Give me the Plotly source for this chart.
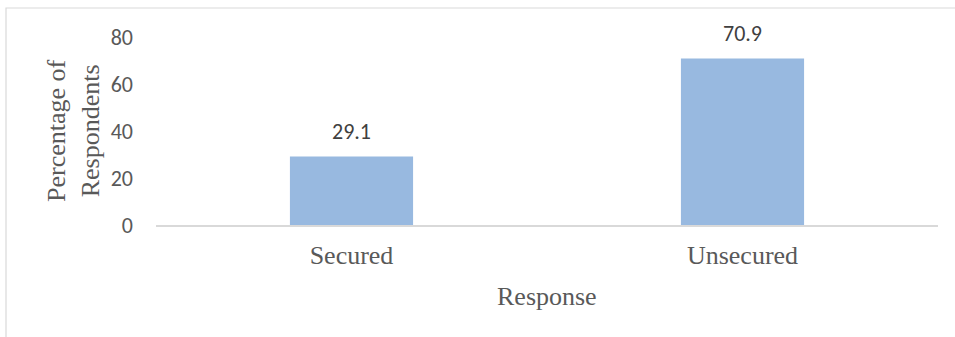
import plotly.graph_objects as go

categories = ["Secured", "Unsecured"]
values = [29.1, 70.9]
y_ticks = [0, 20, 40, 60, 80]

W, H = 955, 337
L, R, T, B = 156, 17, 37, 112

SERIF = "'Liberation Serif', 'Times New Roman', serif"
SANS = "Carlito, Calibri, 'Open Sans', sans-serif"

fig = go.Figure()
fig.add_trace(go.Bar(
    x=categories, y=values,
    marker=dict(color="#98b9e0", line=dict(width=0)),
    width=0.315,
    cliponaxis=False,
))

# data labels
for c, v in zip(categories, values):
    fig.add_annotation(x=c, y=v, text=f"{v:.1f}", showarrow=False,
                       yanchor="middle", yshift=25,
                       font=dict(family=SANS, size=22, color="#404040"))

pw = W - L - R
ph = H - T - B
fig.add_shape(type="rect", xref="paper", yref="paper",
              x0=(6 - L) / pw, x1=(960 - L) / pw,
              y0=-1, y1=(H - B - 8) / ph,
              line=dict(color="#d9d9d9", width=1.2), layer="below")

# axis titles
fig.add_annotation(xref="paper", yref="paper",
                   x=(73 - L) / pw, y=0.5, xanchor="center", yanchor="middle",
                   text="Percentage of<br>Respondents", textangle=-90, showarrow=False,
                   font=dict(family=SERIF, size=26, color="#595959"))
fig.add_annotation(xref="paper", yref="paper",
                   x=0.5, y=-(296 - (H - B)) / ph, xanchor="center", yanchor="middle",
                   text="Response", showarrow=False,
                   font=dict(family=SERIF, size=26, color="#595959"))

fig.update_layout(
    width=W, height=H,
    margin=dict(l=L, r=R, t=T, b=B, autoexpand=False),
    paper_bgcolor="white", plot_bgcolor="white",
    showlegend=False,
    xaxis=dict(
        showline=True, linecolor="#d9d9d9", linewidth=1.5,
        ticks="", showgrid=False, automargin=False,
        ticklabelstandoff=6,
        tickfont=dict(family=SERIF, size=26, color="#595959"),
    ),
    yaxis=dict(
        range=[0, 80], tickvals=y_ticks,
        showgrid=False, showline=False, zeroline=False, ticks="",
        automargin=False,
        ticklabelstandoff=22,
        tickfont=dict(family=SANS, size=22, color="#595959"),
    ),
)

fig.write_html("out.html", config={"displayModeBar": False},
               post_script="document.body.style.margin='0';")
